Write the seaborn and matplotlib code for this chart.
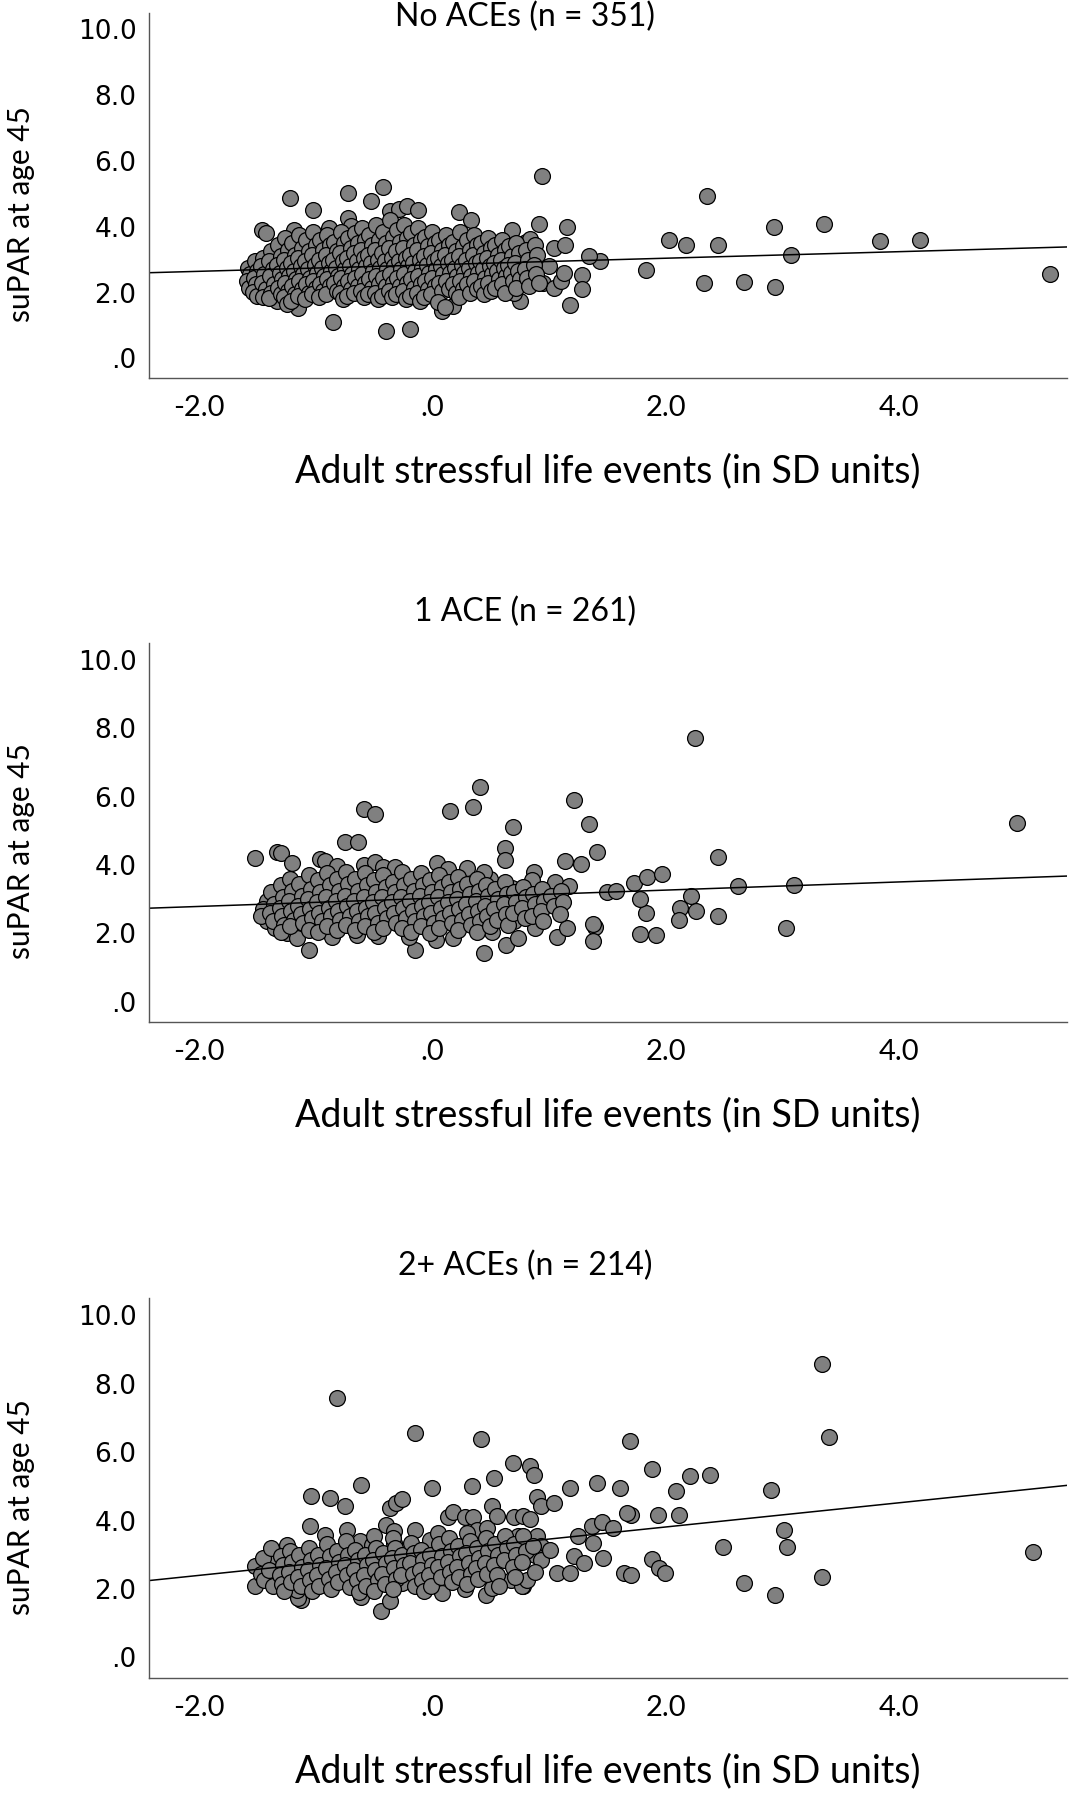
import matplotlib
matplotlib.use('Agg')
import matplotlib.pyplot as plt
import seaborn as sns
import pandas as pd

sns.set_style('white')
plt.rcParams['font.family'] = ['Lato', 'DejaVu Sans']

# values (x = adult stressful life events in SD units, y = suPAR)
no_ace_points = [
    (1.44, 2.95), (1.83, 2.68), (2.03, 3.61), (2.17, 3.43), (2.35, 4.92), (2.45, 3.45), (2.33, 2.29), (2.67, 2.31),
    (2.93, 3.98), (2.94, 2.16), (3.07, 3.15), (3.36, 4.08), (3.84, 3.58), (4.18, 3.61), (5.29, 2.57),
    (0.94, 5.53), (-0.42, 5.20), (-0.72, 5.02), (-1.22, 4.87), (-0.53, 4.77), (-1.02, 4.52), (-0.36, 4.49),
    (-0.29, 4.53), (-0.22, 4.62), (-0.12, 4.52), (0.23, 4.44), (0.33, 4.21),
    (-1.46, 3.91), (-1.43, 3.81), (-1.19, 3.89), (-0.89, 3.96), (-0.72, 4.26), (-0.70, 4.03),
    (0.91, 4.09), (1.15, 3.99), (0.68, 3.91), (1.04, 3.35), (1.14, 3.45), (1.34, 3.12), (1.28, 2.52), (1.28, 2.11),
    (1.18, 1.61), (-0.85, 1.10), (-0.40, 0.83), (-0.19, 0.88), (0.08, 1.43), (0.18, 1.59), (0.75, 1.74),
    (-1.15, 1.54), (-1.33, 1.74), (0.95, 2.29), (1.04, 2.14), (1.10, 2.34), (1.00, 2.80), (1.13, 2.60),
    (0.74, 3.40), (0.80, 3.55), (0.84, 3.62), (0.77, 3.10), (0.75, 2.44), (0.67, 2.09), (0.70, 1.99),
    (-1.58, 2.75), (-1.56, 2.55), (-1.59, 2.35), (-1.57, 2.15),
    (-1.52, 2.95), (-1.50, 2.65), (-1.53, 2.45), (-1.51, 2.25), (-1.54, 2.02), (-1.50, 1.90),
    (-1.45, 3.05), (-1.47, 2.80), (-1.44, 2.55), (-1.46, 2.30), (-1.43, 2.10), (-1.45, 1.86),
    (-1.38, 3.25), (-1.40, 2.95), (-1.37, 2.70), (-1.39, 2.50), (-1.36, 2.25), (-1.38, 2.00), (-1.40, 1.82),
    (-1.32, 3.45), (-1.30, 3.10), (-1.33, 2.85), (-1.31, 2.60), (-1.29, 2.40), (-1.32, 2.15), (-1.30, 1.95),
    (-1.26, 3.65), (-1.24, 3.30), (-1.27, 3.00), (-1.25, 2.75), (-1.23, 2.50), (-1.26, 2.30), (-1.24, 2.05),
    (-1.27, 1.85), (-1.25, 1.65),
    (-1.20, 3.50), (-1.18, 3.15), (-1.21, 2.90), (-1.19, 2.65), (-1.17, 2.40), (-1.20, 2.20), (-1.18, 1.95), (-1.21, 1.75),
    (-1.14, 3.75), (-1.12, 3.35), (-1.15, 3.05), (-1.13, 2.80), (-1.11, 2.55), (-1.14, 2.35), (-1.12, 2.10), (-1.15, 1.90),
    (-1.08, 3.60), (-1.06, 3.25), (-1.09, 2.95), (-1.07, 2.70), (-1.05, 2.45), (-1.08, 2.25), (-1.06, 2.00), (-1.09, 1.80),
    (-1.02, 3.85), (-1.00, 3.45), (-1.03, 3.15), (-1.01, 2.85), (-0.99, 2.60), (-1.02, 2.35), (-1.00, 2.15), (-1.03, 1.95),
    (-0.96, 3.60), (-0.94, 3.30), (-0.97, 3.00), (-0.95, 2.75), (-0.93, 2.50), (-0.96, 2.25), (-0.94, 2.05), (-0.97, 1.85),
    (-0.90, 3.75), (-0.88, 3.45), (-0.91, 3.15), (-0.89, 2.90), (-0.87, 2.65), (-0.90, 2.40), (-0.88, 2.20), (-0.91, 1.95),
    (-0.84, 3.55), (-0.82, 3.25), (-0.85, 3.00), (-0.83, 2.75), (-0.81, 2.50), (-0.84, 2.30), (-0.82, 2.05),
    (-0.78, 3.85), (-0.76, 3.50), (-0.79, 3.20), (-0.77, 2.95), (-0.75, 2.70), (-0.78, 2.45), (-0.76, 2.20),
    (-0.79, 2.00), (-0.77, 1.80),
    (-0.72, 3.65), (-0.70, 3.35), (-0.73, 3.05), (-0.71, 2.80), (-0.69, 2.55), (-0.72, 2.35), (-0.70, 2.10), (-0.73, 1.90),
    (-0.66, 3.80), (-0.64, 3.50), (-0.67, 3.20), (-0.65, 2.95), (-0.63, 2.70), (-0.66, 2.45), (-0.64, 2.20), (-0.67, 2.00),
    (-0.60, 3.95), (-0.58, 3.60), (-0.61, 3.30), (-0.59, 3.05), (-0.57, 2.80), (-0.60, 2.55), (-0.58, 2.30),
    (-0.61, 2.05), (-0.59, 1.85),
    (-0.54, 3.75), (-0.52, 3.45), (-0.55, 3.15), (-0.53, 2.90), (-0.51, 2.65), (-0.54, 2.40), (-0.52, 2.15), (-0.55, 1.95),
    (-0.48, 4.05), (-0.46, 3.60), (-0.49, 3.30), (-0.47, 3.00), (-0.45, 2.75), (-0.48, 2.50), (-0.46, 2.25),
    (-0.49, 2.00), (-0.47, 1.80),
    (-0.42, 3.85), (-0.40, 3.50), (-0.43, 3.20), (-0.41, 2.95), (-0.39, 2.70), (-0.42, 2.45), (-0.40, 2.20), (-0.43, 1.90),
    (-0.36, 4.20), (-0.34, 3.70), (-0.37, 3.35), (-0.35, 3.05), (-0.33, 2.80), (-0.36, 2.55), (-0.34, 2.30),
    (-0.37, 2.05), (-0.35, 1.85),
    (-0.30, 3.90), (-0.28, 3.55), (-0.31, 3.25), (-0.29, 2.95), (-0.27, 2.70), (-0.30, 2.45), (-0.28, 2.20), (-0.31, 1.95),
    (-0.24, 4.05), (-0.22, 3.65), (-0.25, 3.35), (-0.23, 3.05), (-0.21, 2.80), (-0.24, 2.55), (-0.22, 2.30),
    (-0.25, 2.05), (-0.23, 1.80),
    (-0.18, 3.80), (-0.16, 3.45), (-0.19, 3.15), (-0.17, 2.90), (-0.15, 2.65), (-0.18, 2.40), (-0.16, 2.15), (-0.19, 1.90),
    (-0.12, 3.95), (-0.10, 3.60), (-0.13, 3.30), (-0.11, 3.00), (-0.09, 2.75), (-0.12, 2.50), (-0.10, 2.25),
    (-0.13, 2.00), (-0.11, 1.75),
    (-0.06, 3.70), (-0.04, 3.40), (-0.07, 3.10), (-0.05, 2.85), (-0.03, 2.60), (-0.06, 2.35), (-0.04, 2.10), (-0.07, 1.85),
    (0.00, 3.85), (0.02, 3.50), (-0.01, 3.20), (0.01, 2.95), (0.03, 2.70), (0.00, 2.45), (0.02, 2.20), (-0.01, 1.95),
    (0.06, 3.60), (0.08, 3.30), (0.05, 3.05), (0.07, 2.80), (0.09, 2.55), (0.06, 2.30), (0.08, 2.05), (0.05, 1.70),
    (0.12, 3.75), (0.14, 3.45), (0.11, 3.15), (0.13, 2.90), (0.15, 2.60), (0.12, 2.35), (0.14, 2.10), (0.11, 1.55),
    (0.18, 3.55), (0.20, 3.25), (0.17, 3.00), (0.19, 2.75), (0.21, 2.50), (0.18, 2.25), (0.20, 2.00),
    (0.24, 3.85), (0.26, 3.40), (0.23, 3.10), (0.25, 2.85), (0.27, 2.60), (0.24, 2.35), (0.26, 2.10), (0.23, 1.85),
    (0.30, 3.60), (0.32, 3.30), (0.29, 3.00), (0.31, 2.75), (0.33, 2.50), (0.30, 2.25), (0.32, 2.00),
    (0.36, 3.75), (0.38, 3.45), (0.35, 3.15), (0.37, 2.90), (0.39, 2.60), (0.36, 2.35), (0.38, 2.10),
    (0.42, 3.50), (0.44, 3.20), (0.41, 2.95), (0.43, 2.70), (0.45, 2.45), (0.42, 2.20), (0.44, 1.95),
    (0.48, 3.65), (0.50, 3.35), (0.47, 3.05), (0.49, 2.80), (0.51, 2.55), (0.48, 2.30), (0.50, 2.05),
    (0.54, 3.45), (0.56, 3.15), (0.53, 2.90), (0.55, 2.65), (0.57, 2.40), (0.54, 2.15),
    (0.60, 3.60), (0.62, 3.30), (0.59, 3.00), (0.61, 2.75), (0.63, 2.50), (0.60, 2.25), (0.62, 2.00),
    (0.66, 3.40), (0.68, 3.10), (0.65, 2.85), (0.67, 2.60), (0.69, 2.35),
    (0.72, 3.50), (0.74, 3.20), (0.71, 2.90), (0.73, 2.65), (0.75, 2.40), (0.72, 2.15),
    (0.80, 3.30), (0.82, 3.00), (0.79, 2.70), (0.81, 2.45), (0.83, 2.20),
    (0.88, 3.45), (0.90, 3.15), (0.87, 2.85), (0.89, 2.55), (0.91, 2.30),
]

one_ace_points = [
    (2.25, 7.71), (0.41, 6.29), (0.35, 5.70), (0.15, 5.58), (-0.59, 5.65), (-0.49, 5.50), (1.21, 5.90), (1.34, 5.21),
    (0.69, 5.11), (5.01, 5.23), (-0.75, 4.66), (-0.64, 4.66), (0.62, 4.49), (0.62, 4.15), (1.41, 4.39), (1.27, 4.02),
    (1.14, 4.12), (2.45, 4.24), (-1.52, 4.19), (-1.33, 4.37), (-1.30, 4.34), (-1.20, 4.07), (-0.96, 4.17),
    (-0.92, 4.12), (-0.82, 3.97),
    (2.62, 3.38), (3.10, 3.40), (3.03, 2.14), (2.45, 2.49), (2.22, 3.08), (2.12, 2.75), (2.26, 2.64), (2.11, 2.40),
    (1.83, 2.60), (1.78, 1.98), (1.92, 1.96), (1.73, 3.48), (1.84, 3.64), (1.97, 3.73), (1.78, 2.99), (1.50, 3.22),
    (1.57, 3.25), (1.39, 2.19), (1.38, 1.78),
    (0.44, 1.41), (-1.06, 1.51), (-0.15, 1.51), (0.63, 1.66), (0.73, 1.86), (-1.42, 2.37), (-1.35, 2.15),
    (-1.25, 2.00), (-1.16, 1.85), (-0.86, 1.90), (-0.65, 1.95), (-0.47, 1.92), (-0.20, 1.90), (0.03, 1.80),
    (0.18, 1.85), (0.51, 2.05), (0.70, 2.37), (0.88, 2.15), (1.07, 1.90), (1.15, 2.15), (1.38, 2.27),
    (-1.42, 2.94), (-1.23, 3.09),
    (0.87, 3.78), (0.85, 3.56), (1.05, 3.50), (1.17, 3.38), (0.68, 3.33), (0.49, 3.58), (0.30, 3.92), (0.44, 3.78),
    (0.04, 4.07), (0.13, 3.88), (-0.59, 4.00), (-0.49, 4.10), (-0.42, 3.95), (-0.32, 3.95),
    (-1.45, 2.70), (-1.47, 2.50),
    (-1.38, 3.20), (-1.36, 2.85), (-1.39, 2.60), (-1.37, 2.35),
    (-1.30, 3.40), (-1.28, 3.05), (-1.31, 2.75), (-1.29, 2.50), (-1.27, 2.25), (-1.30, 2.05),
    (-1.22, 3.60), (-1.20, 3.25), (-1.23, 2.95), (-1.21, 2.65), (-1.19, 2.40), (-1.22, 2.20),
    (-1.14, 3.45), (-1.12, 3.10), (-1.15, 2.80), (-1.13, 2.55), (-1.11, 2.30),
    (-1.06, 3.70), (-1.04, 3.30), (-1.07, 3.00), (-1.05, 2.70), (-1.03, 2.45), (-1.06, 2.10),
    (-0.98, 3.55), (-0.96, 3.20), (-0.99, 2.90), (-0.97, 2.60), (-0.95, 2.35), (-0.98, 2.05),
    (-0.90, 3.75), (-0.88, 3.40), (-0.91, 3.05), (-0.89, 2.75), (-0.87, 2.50), (-0.90, 2.20),
    (-0.82, 3.60), (-0.80, 3.25), (-0.83, 2.95), (-0.81, 2.65), (-0.79, 2.40), (-0.82, 2.10),
    (-0.74, 3.80), (-0.72, 3.45), (-0.75, 3.10), (-0.73, 2.80), (-0.71, 2.50), (-0.74, 2.25),
    (-0.66, 3.60), (-0.64, 3.25), (-0.67, 2.95), (-0.65, 2.65), (-0.63, 2.35), (-0.66, 2.10),
    (-0.58, 3.75), (-0.56, 3.40), (-0.59, 3.05), (-0.57, 2.75), (-0.55, 2.50), (-0.58, 2.20),
    (-0.50, 3.55), (-0.48, 3.20), (-0.51, 2.90), (-0.49, 2.60), (-0.47, 2.30), (-0.50, 2.05),
    (-0.42, 3.70), (-0.40, 3.35), (-0.43, 3.05), (-0.41, 2.75), (-0.39, 2.45), (-0.42, 2.15),
    (-0.34, 3.50), (-0.32, 3.20), (-0.35, 2.90), (-0.33, 2.60), (-0.31, 2.30),
    (-0.26, 3.80), (-0.24, 3.40), (-0.27, 3.05), (-0.25, 2.75), (-0.23, 2.45), (-0.26, 2.15),
    (-0.18, 3.60), (-0.16, 3.25), (-0.19, 2.95), (-0.17, 2.65), (-0.15, 2.35), (-0.18, 2.05),
    (-0.10, 3.75), (-0.08, 3.40), (-0.11, 3.10), (-0.09, 2.80), (-0.07, 2.50), (-0.10, 2.20),
    (-0.02, 3.55), (0.00, 3.20), (-0.03, 2.90), (-0.01, 2.60), (0.01, 2.30), (-0.02, 2.00),
    (0.06, 3.70), (0.08, 3.35), (0.05, 3.05), (0.07, 2.75), (0.09, 2.45), (0.06, 2.15),
    (0.14, 3.50), (0.16, 3.20), (0.13, 2.90), (0.15, 2.60), (0.17, 2.30),
    (0.22, 3.65), (0.24, 3.30), (0.21, 3.00), (0.23, 2.70), (0.25, 2.40), (0.22, 2.10),
    (0.30, 3.45), (0.32, 3.15), (0.29, 2.85), (0.31, 2.55), (0.33, 2.25),
    (0.38, 3.60), (0.40, 3.25), (0.37, 2.95), (0.39, 2.65), (0.41, 2.35), (0.38, 2.05),
    (0.46, 3.40), (0.48, 3.10), (0.45, 2.80), (0.47, 2.50), (0.49, 2.20),
    (0.54, 3.30), (0.56, 3.00), (0.53, 2.70), (0.55, 2.40),
    (0.62, 3.50), (0.64, 3.15), (0.61, 2.85), (0.63, 2.55), (0.65, 2.25),
    (0.70, 3.20), (0.72, 2.90), (0.69, 2.60),
    (0.78, 3.35), (0.80, 3.05), (0.77, 2.75), (0.79, 2.45),
    (0.86, 3.15), (0.88, 2.85), (0.85, 2.50),
    (0.94, 3.30), (0.96, 2.95), (0.93, 2.65), (0.95, 2.35),
    (1.02, 3.10), (1.04, 2.80),
    (1.10, 3.25), (1.12, 2.90), (1.09, 2.55),
]

two_plus_points = [
    (3.34, 8.57), (-0.82, 7.57), (-0.15, 6.57), (0.42, 6.38), (1.69, 6.33), (3.40, 6.45), (0.69, 5.68), (0.84, 5.58),
    (0.87, 5.34), (1.88, 5.50), (2.21, 5.29), (2.38, 5.34), (0.53, 5.24), (0.34, 5.01), (0.00, 4.96), (-0.61, 5.03),
    (1.18, 4.95), (1.41, 5.11), (1.61, 4.95), (2.09, 4.85), (2.90, 4.88), (-1.04, 4.72), (-0.88, 4.65), (-0.75, 4.43),
    (-0.36, 4.36), (-0.31, 4.51), (-0.26, 4.63), (0.90, 4.69), (0.93, 4.41), (1.04, 4.51), (0.51, 4.43), (1.70, 4.17),
    (1.93, 4.15), (2.11, 4.15), (3.01, 3.71), (3.04, 3.23), (2.49, 3.23), (5.15, 3.08), (3.34, 2.35), (2.67, 2.18),
    (2.94, 1.82), (1.64, 2.47), (1.70, 2.42), (1.88, 2.88), (1.94, 2.62), (1.99, 2.47), (-0.44, 1.37), (-1.13, 1.69),
    (-1.52, 2.66), (-1.52, 2.08), (0.46, 1.81), (0.08, 1.89), (0.28, 2.00), (-0.36, 1.64), (-0.61, 1.76), (0.78, 2.08),
    (1.07, 2.47), (1.18, 2.47), (1.46, 2.91), (1.38, 3.34), (1.25, 3.54),
    (-1.35, 3.05), (-1.35, 2.76), (-1.35, 2.32), (-1.25, 3.29), (-1.15, 1.74), (-1.05, 3.83), (-0.92, 3.59),
    (-0.73, 3.73), (-0.62, 3.39), (-0.52, 3.29), (-0.40, 3.88), (-0.33, 3.68), (-0.33, 3.34), (-0.15, 3.71),
    (-0.02, 3.44), (0.05, 3.63), (0.13, 4.10), (0.18, 4.24), (0.28, 4.10), (0.35, 4.10), (0.38, 3.73), (0.47, 3.78),
    (0.55, 4.14), (0.70, 4.10), (0.78, 4.12), (0.84, 4.05), (0.73, 3.56), (0.68, 3.20), (0.90, 3.54), (0.93, 3.25),
    (0.88, 3.00), (0.93, 2.86), (1.01, 3.15), (1.37, 3.83), (1.45, 3.97), (1.55, 3.78), (1.67, 4.22), (1.21, 2.95),
    (1.30, 2.76), (0.51, 2.03), (0.67, 2.27), (0.77, 2.08), (0.81, 2.27), (-0.13, 2.32), (-0.26, 2.18), (-1.16, 1.98),
    (-1.45, 2.90), (-1.47, 2.45), (-1.44, 2.25),
    (-1.38, 3.20), (-1.40, 2.55), (-1.37, 2.10),
    (-1.30, 2.95), (-1.28, 2.70), (-1.31, 2.40), (-1.29, 2.15), (-1.27, 1.95),
    (-1.22, 3.10), (-1.20, 2.80), (-1.23, 2.50), (-1.21, 2.20),
    (-1.14, 3.00), (-1.12, 2.65), (-1.15, 2.35), (-1.13, 2.10),
    (-1.06, 3.20), (-1.04, 2.85), (-1.07, 2.55), (-1.05, 2.25), (-1.03, 1.95),
    (-0.98, 3.00), (-0.96, 2.70), (-0.99, 2.40), (-0.97, 2.10),
    (-0.90, 3.30), (-0.88, 2.95), (-0.91, 2.60), (-0.89, 2.30), (-0.87, 2.00),
    (-0.82, 3.10), (-0.80, 2.80), (-0.83, 2.50), (-0.81, 2.20),
    (-0.74, 3.40), (-0.72, 3.00), (-0.75, 2.70), (-0.73, 2.40), (-0.71, 2.05),
    (-0.66, 3.15), (-0.64, 2.85), (-0.67, 2.55), (-0.65, 2.25), (-0.63, 1.90),
    (-0.58, 3.00), (-0.56, 2.70), (-0.59, 2.40), (-0.57, 2.10),
    (-0.50, 3.55), (-0.48, 3.20), (-0.51, 2.85), (-0.49, 2.55), (-0.47, 2.25), (-0.50, 1.95),
    (-0.42, 3.05), (-0.40, 2.75), (-0.43, 2.45), (-0.41, 2.15),
    (-0.34, 3.50), (-0.32, 3.20), (-0.35, 2.90), (-0.33, 2.60), (-0.31, 2.30), (-0.34, 2.00),
    (-0.26, 3.00), (-0.24, 2.70), (-0.27, 2.40),
    (-0.18, 3.35), (-0.16, 3.05), (-0.19, 2.75), (-0.17, 2.45), (-0.15, 2.10),
    (-0.10, 3.15), (-0.08, 2.85), (-0.11, 2.55), (-0.09, 2.25), (-0.07, 1.95),
    (-0.02, 3.00), (0.00, 2.70), (-0.03, 2.40), (-0.01, 2.10),
    (0.06, 3.30), (0.08, 2.95), (0.05, 2.65), (0.07, 2.35),
    (0.14, 3.50), (0.16, 3.10), (0.13, 2.80), (0.15, 2.50), (0.17, 2.20),
    (0.22, 3.25), (0.24, 2.95), (0.21, 2.65), (0.23, 2.35),
    (0.30, 3.65), (0.32, 3.40), (0.29, 3.05), (0.31, 2.75), (0.33, 2.45), (0.30, 2.15),
    (0.38, 3.20), (0.40, 2.90), (0.37, 2.60), (0.39, 2.30),
    (0.46, 3.50), (0.48, 3.10), (0.45, 2.75), (0.47, 2.45),
    (0.54, 3.30), (0.56, 3.00), (0.53, 2.70), (0.55, 2.40), (0.57, 2.10),
    (0.62, 3.55), (0.64, 3.20), (0.61, 2.85),
    (0.70, 3.30), (0.72, 3.00), (0.69, 2.65), (0.71, 2.35),
    (0.78, 3.55), (0.80, 3.10), (0.77, 2.80),
    (0.86, 3.25), (0.88, 2.50),
]

panel_titles = ['No ACEs (n = 351)', '1 ACE (n = 261)', '2+ ACEs (n = 214)']
x_ticks = [-2, 0, 2, 4]
x_tick_labels = ['-2.0', '.0', '2.0', '4.0']
y_ticks = [0, 2, 4, 6, 8, 10]
y_tick_labels = ['.0', '2.0', '4.0', '6.0', '8.0', '10.0']
x_label = 'Adult stressful life events (in SD units)'
y_label = 'suPAR at age 45'

# layout in pixels of the 1070x1800 canvas: (left, top, right, bottom) and title centre y
W, H = 1070, 1800
axes_px = [(149, 13, 1067, 378), (149, 643, 1067, 1022), (149, 1298, 1067, 1678)]
title_y_px = [17, 612, 1266]

fig = plt.figure(figsize=(W / 100, H / 100), dpi=100)

for pts, title, (l, t, r, b), ty in zip([no_ace_points, one_ace_points, two_plus_points],
                                        panel_titles, axes_px, title_y_px):
    df = pd.DataFrame(pts, columns=['stress', 'supar'])
    ax = fig.add_axes([l / W, 1 - b / H, (r - l) / W, (b - t) / H])
    ax.set_xlim(-2.43, 5.44)
    ax.set_ylim(-0.6, 10.5)
    sns.regplot(data=df, x='stress', y='supar', ax=ax, ci=None, truncate=False, color='#808080',
                scatter_kws=dict(s=130, edgecolor='black', linewidths=0.9, alpha=1),
                line_kws=dict(color='black', lw=1.1))
    ax.set_xlim(-2.43, 5.44)
    ax.set_ylim(-0.6, 10.5)

    for side in ['top', 'right']:
        ax.spines[side].set_visible(False)
    for side in ['left', 'bottom']:
        ax.spines[side].set_color('#555555')
        ax.spines[side].set_linewidth(1.0)

    ax.set_xticks(x_ticks)
    ax.set_xticklabels(x_tick_labels, fontsize=21)
    ax.set_yticks(y_ticks)
    ax.set_yticklabels(y_tick_labels, fontsize=19, family='DejaVu Sans')
    ax.tick_params(axis='both', length=0, colors='black')
    ax.tick_params(axis='x', pad=12)
    ax.tick_params(axis='y', pad=9)

    ah = b - t
    ax.set_xlabel(x_label, fontsize=27, color='black')
    ax.xaxis.set_label_coords(0.5, -93 / ah)
    ax.xaxis.label.set_va('center')
    ax.set_ylabel(y_label, fontsize=21.5, color='black')
    ax.yaxis.set_label_coords(-128 / (r - l), 0.45)
    ax.yaxis.label.set_va('center')

    fig.text(525 / W, 1 - ty / H, title, ha='center', va='center', fontsize=23, color='black')

fig.savefig('out.png', dpi=100)
